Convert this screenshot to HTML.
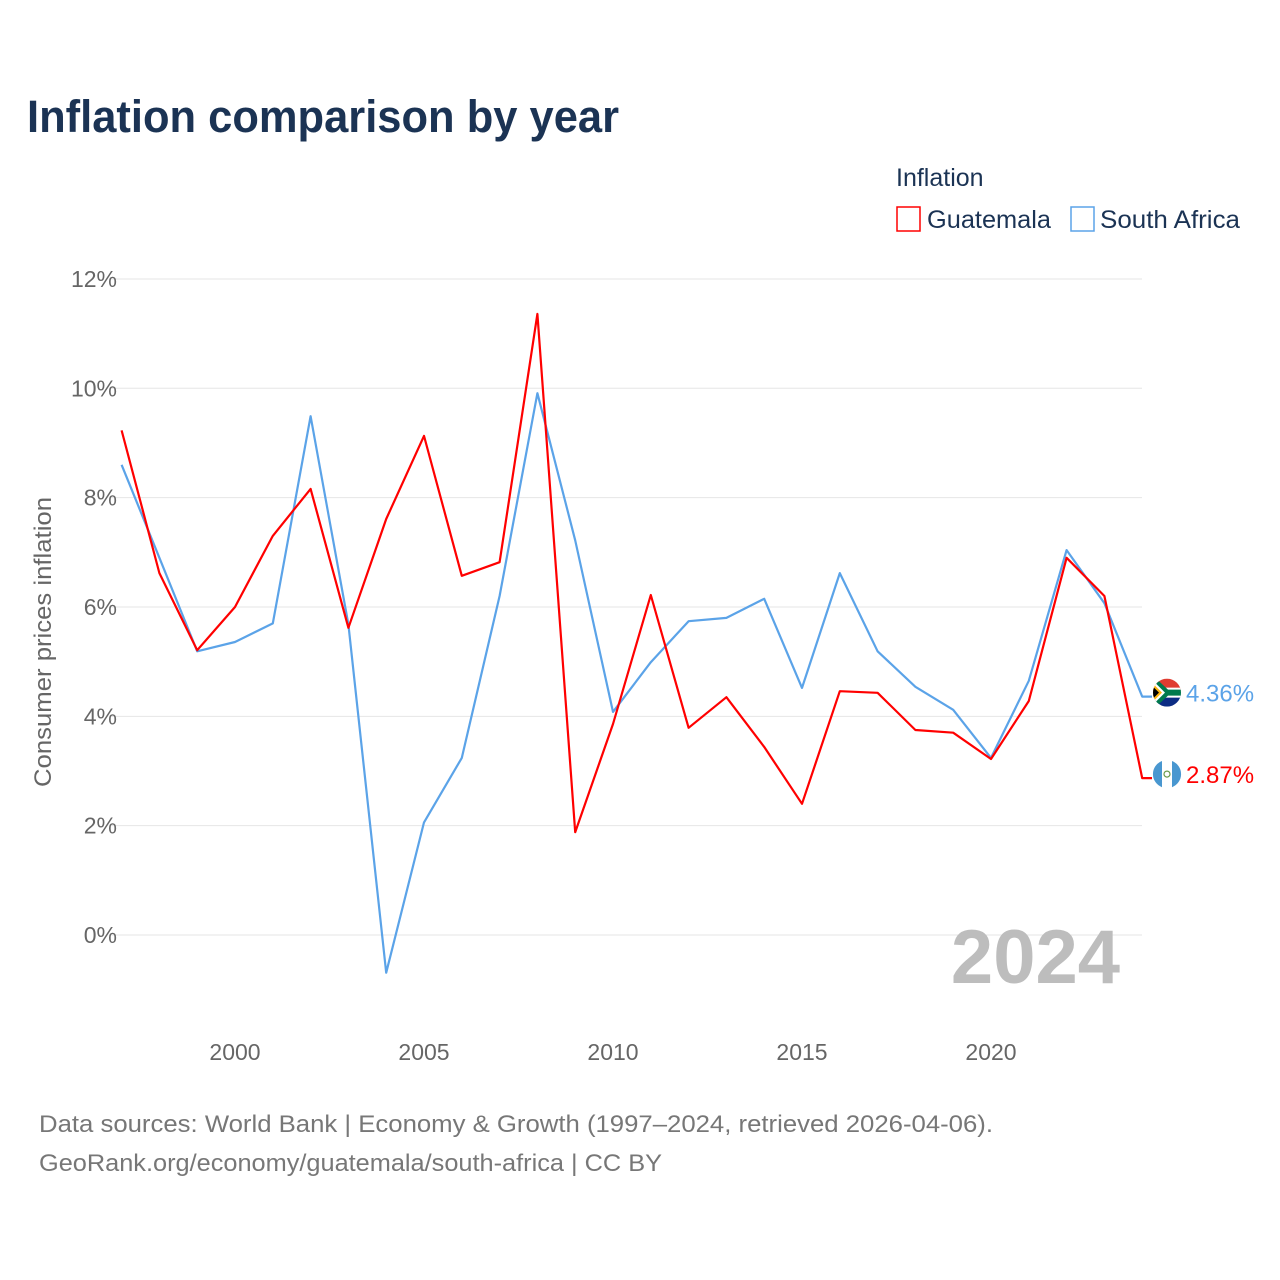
<!DOCTYPE html>
<html><head><meta charset="utf-8">
<style>
body{margin:0;background:#fff;font-family:"Liberation Sans",Arial,sans-serif;}
#wrap{position:relative;width:1280px;height:1280px;overflow:hidden;}
</style></head>
<body>
<div id="wrap">
<svg id="chart" width="1280" height="1280" xmlns="http://www.w3.org/2000/svg">
<defs>
<clipPath id="cSA"><circle cx="1167" cy="0" r="14"/></clipPath>
</defs>
<text x="27" y="132" font-size="45" font-weight="bold" fill="#1b3354" textLength="592" lengthAdjust="spacingAndGlyphs">Inflation comparison by year</text>
<text x="896" y="186" font-size="25" fill="#1b3354">Inflation</text>
<g>
<rect x="897" y="207" width="23" height="24" fill="none" stroke="#ff0000" stroke-width="1.5"/>
<text x="927" y="228" font-size="25" fill="#1b3354" textLength="124" lengthAdjust="spacingAndGlyphs">Guatemala</text></g>
<g>
<rect x="1071" y="207" width="23" height="24" fill="none" stroke="#5ba3e8" stroke-width="1.5"/>
<text x="1100" y="228" font-size="25" fill="#1b3354" textLength="140" lengthAdjust="spacingAndGlyphs">South Africa</text></g>
<g id="grid"></g>
<g id="yticks"></g>
<g id="xticks"></g>
<text transform="translate(51,642) rotate(-90)" text-anchor="middle" font-size="24" fill="#666" textLength="290" lengthAdjust="spacingAndGlyphs">Consumer prices inflation</text>
<text x="1120" y="983" text-anchor="end" font-size="76" font-weight="bold" fill="#bdbdbd">2024</text>
<g id="series"></g>
<text x="39" y="1132" font-size="24" fill="#777" textLength="954" lengthAdjust="spacingAndGlyphs">Data sources: World Bank | Economy &amp; Growth (1997–2024, retrieved 2026-04-06).</text>
<text x="39" y="1171" font-size="24" fill="#777" textLength="623" lengthAdjust="spacingAndGlyphs">GeoRank.org/economy/guatemala/south-africa | CC BY</text>
</svg>
</div>
<script>
const years = [1997,1998,1999,2000,2001,2002,2003,2004,2005,2006,2007,2008,2009,2010,2011,2012,2013,2014,2015,2016,2017,2018,2019,2020,2021,2022,2023,2024];
const guatemala = [9.23,6.62,5.21,6.0,7.3,8.16,5.62,7.61,9.13,6.57,6.82,11.36,1.88,3.86,6.22,3.79,4.35,3.44,2.40,4.46,4.43,3.75,3.70,3.22,4.28,6.90,6.20,2.87];
const southAfrica = [8.6,6.9,5.19,5.36,5.7,9.49,5.68,-0.69,2.06,3.24,6.2,9.91,7.22,4.08,4.99,5.74,5.8,6.15,4.52,6.62,5.19,4.54,4.12,3.24,4.65,7.04,6.07,4.36];
const yTicks = [0,2,4,6,8,10,12];
const xTicks = [2000,2005,2010,2015,2020];
const NS="http://www.w3.org/2000/svg";
const x = y => 121.6 + (y-1997)*37.8;
const yS = v => 935 - v*54.67;
function mk(tag, attrs, parent){const e=document.createElementNS(NS,tag);for(const k in attrs)e.setAttribute(k,attrs[k]);parent.appendChild(e);return e;}
const grid=document.getElementById('grid'), yt=document.getElementById('yticks'), xt=document.getElementById('xticks'), ser=document.getElementById('series');
yTicks.forEach(v=>{
  const l=mk('line',{x1:110,x2:1142,y1:yS(v),y2:yS(v),stroke:'#e6e6e6','stroke-width':1},grid);
  
  
  const t=mk('text',{x:117,y:yS(v)+8,'text-anchor':'end','font-size':23,fill:'#666'},yt);
  t.textContent=v+'%';
  
  
});
xTicks.forEach(v=>{
  const t=mk('text',{x:x(v),y:1060,'text-anchor':'middle','font-size':23,fill:'#666'},xt);
  t.textContent=v;
  
  
});
function flagSA(cy,g){
  const cl=document.getElementById('cSA'); cl.firstChild.setAttribute('cy',cy);
  const f=mk('g',{'clip-path':'url(#cSA)'},g);
  mk('rect',{x:1153,y:cy-14,width:28,height:14,fill:'#e03c31'},f);
  mk('rect',{x:1153,y:cy,width:28,height:14,fill:'#0c2c84'},f);
  mk('path',{d:`M1153,${cy-14} L1167,${cy} L1153,${cy+14} Z`,fill:'#fff'},f);
  mk('rect',{x:1160,y:cy-5,width:22,height:10,fill:'#fff'},f);
  mk('path',{d:`M1150,${cy-12} L1162,${cy} L1150,${cy+12} Z`,fill:'#ffb612'},f);
  mk('path',{d:`M1150,${cy-9} L1159,${cy} L1150,${cy+9} Z`,fill:'#000'},f);
  mk('path',{d:`M1153,${cy-17} L1168,${cy-3} L1182,${cy-3} L1182,${cy+3} L1168,${cy+3} L1153,${cy+17} L1153,${cy+12} L1165,${cy} L1153,${cy-12}Z`,fill:'#007a4d'},f);
}
function flagGT(cy,g){
  mk('circle',{cx:1167,cy:cy,r:14,fill:'#fff'},g);
  mk('path',{d:`M1162,${cy-13.1} A14,14 0 0 0 1162,${cy+13.1} Z`,fill:'#4997d0'},g);
  mk('path',{d:`M1172,${cy-13.1} A14,14 0 0 1 1172,${cy+13.1} Z`,fill:'#4997d0'},g);
  mk('circle',{cx:1167,cy:cy,r:3,fill:'none',stroke:'#6a9a4a','stroke-width':1.2},g);
}
function line(data,color,name,flagFn){
  let d=data.map((v,i)=>(i?'L':'M')+x(years[i]).toFixed(1)+','+yS(v).toFixed(1)).join(' ');
  const last=data[data.length-1];
  d+=' L1152,'+yS(last).toFixed(1);
  const p=mk('path',{d:d,fill:'none',stroke:color,'stroke-width':2.2,'stroke-linejoin':'round'},ser);
  
  
  const fg=mk('g',{},ser);
  
  
  flagFn(yS(last)-4,fg);
  const t=mk('text',{x:1186,y:yS(last)+5,'font-size':24,fill:color},ser);
  t.textContent=last.toFixed(2)+'%';
  
  
}
line(southAfrica,'#5ba3e8','south-africa',flagSA);
line(guatemala,'#ff0000','guatemala',flagGT);
</script>
</body></html>
